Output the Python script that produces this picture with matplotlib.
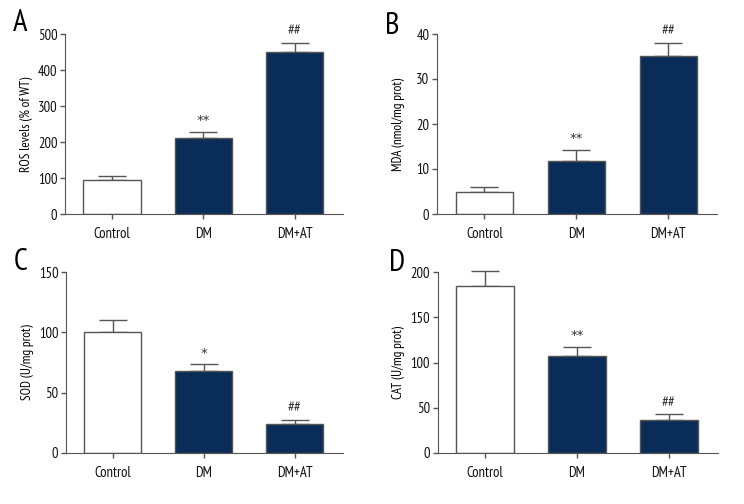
import matplotlib
matplotlib.use('Agg')
import matplotlib.pyplot as plt

plt.rcParams['font.family'] = ['PT Sans Narrow', 'DejaVu Sans']

# data
groups = ['Control', 'DM', 'DM+AT']

ros_mean = [94, 212, 451]
ros_err = [12, 17, 25]
mda_mean = [5.0, 11.8, 35.2]
mda_err = [1.1, 2.5, 2.9]
sod_mean = [100.4, 67.7, 24.3]
sod_err = [9.6, 5.8, 3.3]
cat_mean = [184.8, 107.7, 37.0]
cat_err = [16.5, 9.9, 5.8]

ros_marks = ['', '**', '##']
mda_marks = ['', '**', '##']
sod_marks = ['', '*', '##']
cat_marks = ['', '**', '##']

panels = [
    ('A', ros_mean, ros_err, ros_marks, 'ROS levels (% of WT)', 500, 100,
     [65 / 744, 1 - 214 / 504, 278 / 744, 180 / 504], (-0.187, 1.061)),
    ('B', mda_mean, mda_err, mda_marks, 'MDA (nmol/mg prot)', 40, 10,
     [437 / 744, 1 - 214 / 504, 280 / 744, 180 / 504], (-0.186, 1.044)),
    ('C', sod_mean, sod_err, sod_marks, 'SOD (U/mg prot)', 150, 50,
     [66 / 744, 1 - 453 / 504, 277 / 744, 181 / 504], (-0.19, 1.055)),
    ('D', cat_mean, cat_err, cat_marks, 'CAT (U/mg prot)', 200, 50,
     [437.5 / 744, 1 - 453 / 504, 280 / 744, 181 / 504], (-0.173, 1.05)),
]

navy = '#0a2c58'
edge = '#555555'

fig = plt.figure(figsize=(7.44, 5.04), dpi=100)

for letter, mean, err, marks, ylabel, ymax, step, pos, lpos in panels:
    ax = fig.add_axes(pos)
    x = list(range(len(groups)))
    colors = ['white', navy, navy]
    ax.bar(x, mean, width=0.625, color=colors, edgecolor=edge, linewidth=1, zorder=2)
    eb = ax.errorbar(x, mean, yerr=[[0, 0, 0], err], fmt='none', ecolor=edge,
                     elinewidth=1, capsize=9.8, capthick=1, zorder=1)
    for art in eb.lines[1] + eb.lines[2]:
        art.set_clip_on(False)
    for xi, m, e, s in zip(x, mean, err, marks):
        if s.startswith('*'):
            # asterisks look better in DejaVu
            ax.annotate(s, (xi, m + e), xytext=(0, 3), textcoords='offset points',
                        ha='center', va='bottom', fontsize=9.5, color='#333333',
                        family='DejaVu Sans')
        elif s:
            ax.annotate(s, (xi, m + e), xytext=(0, 3), textcoords='offset points',
                        ha='center', va='bottom', fontsize=11, color='#333333')
    ax.set_xlim(-0.515, 2.53)
    ax.set_ylim(0, ymax)
    ax.set_yticks(range(0, ymax + 1, step))
    ax.set_xticks(x)
    ax.set_xticklabels(groups, fontsize=10.5)
    ax.set_ylabel(ylabel, fontsize=9.5)
    ax.yaxis.set_label_coords(-0.115, 0.5)
    for sp in ['top', 'right']:
        ax.spines[sp].set_visible(False)
    for sp in ['left', 'bottom']:
        ax.spines[sp].set_color(edge)
    ax.tick_params(colors=edge, labelcolor='#111111', length=3.5, width=1)
    ax.tick_params(axis='y', labelsize=10.5, pad=2)
    ax.tick_params(axis='x', pad=6)
    # panel letter
    ax.text(lpos[0], lpos[1], letter, transform=ax.transAxes, fontsize=22,
            va='center', ha='left')

fig.savefig('out.png', dpi=100)
